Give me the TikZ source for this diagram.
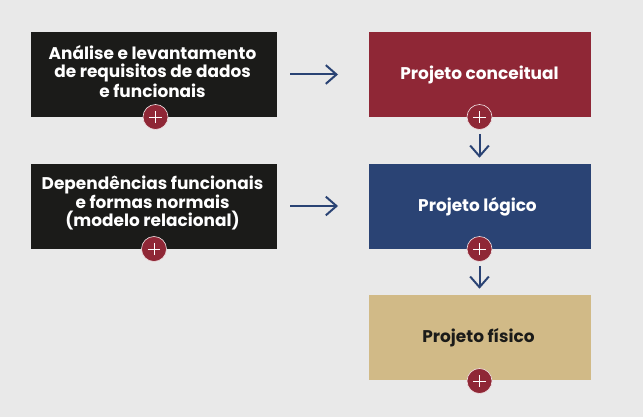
\documentclass[tikz,border=0pt]{standalone}
\usepackage{fontspec}
\setmainfont{Poppins}[BoldFont={Poppins Bold}]
\usetikzlibrary{arrows.meta}
\definecolor{bgc}{HTML}{E9E9E9}
\definecolor{blk}{HTML}{1B1B19}
\definecolor{rd}{HTML}{8F2736}
\definecolor{bl}{HTML}{2A4374}
\definecolor{tan}{HTML}{D1BA87}
\tikzset{x=0.75pt,y=-0.75pt,
 fnt/.style={font=\fontsize{12.7pt}{13.4pt}\selectfont\bfseries,align=center,inner sep=0pt},
 boxs/.style={fnt,minimum width=222*0.75pt,minimum height=85*0.75pt,text=white},
 lbl/.style={fnt,text=white},
 plusn/.style={circle,fill=rd,draw=white!85!rd,line width=0.5pt,minimum size=25*0.75pt,inner sep=0pt},
 arr/.style={draw=bl,line width=1.5pt,-{Straight Barb[length=8pt,width=14pt,line width=1.5pt]}}}
\newcommand{\plusmark}[1]{\draw[white,line width=0.6pt] ([xshift=-4.6pt]#1.center) -- ([xshift=4.6pt]#1.center) ([yshift=-4.6pt]#1.center) -- ([yshift=4.6pt]#1.center);}
\begin{document}
\begin{tikzpicture}
\path[fill=bgc,use as bounding box] (0,0) rectangle (643,417);
\fill[blk] (31,32) rectangle (277,117);
\fill[blk] (31,164) rectangle (277,249);
\node[lbl] (a) at (152.5,71.5) {Análise e levantamento\\de requisitos de dados\\e funcionais};
\node[boxs,fill=rd] (b) at (479.5,74.5) {\raisebox{1pt}{Projeto conceitual}};
\node[lbl] (c) at (152.5,203) {Dependências funcionais\\e formas normais\\(modelo relacional)};
\node[boxs,fill=bl] (d) at (479.5,206.5) {\hspace*{-3pt}Projeto lógico};
\node[boxs,fill=tan,text=blk] (e) at (479.5,337.5) {\hspace*{-1.5pt}Projeto físico};
\node[plusn] (pa) at (155.5,117) {};
\node[plusn] (pb) at (479.5,117) {};
\node[plusn] (pc) at (154,249) {};
\node[plusn] (pd) at (479.5,249) {};
\node[plusn] (pe) at (479.5,381) {};
\foreach \n in {pa,pb,pc,pd,pe}{\plusmark{\n}}
\coordinate (a1) at (290,74.5); \coordinate (a2) at (338,74.5);
\coordinate (c1) at (290,206); \coordinate (c2) at (338,206);
\draw[arr] (a1) -- (a2);
\draw[arr] (c1) -- (c2);
\draw[arr,shorten <=3pt,shorten >=4.5pt] (pb) -- (d);
\draw[arr,shorten <=3pt,shorten >=4.5pt] (pd) -- (e);
\end{tikzpicture}
\end{document}
